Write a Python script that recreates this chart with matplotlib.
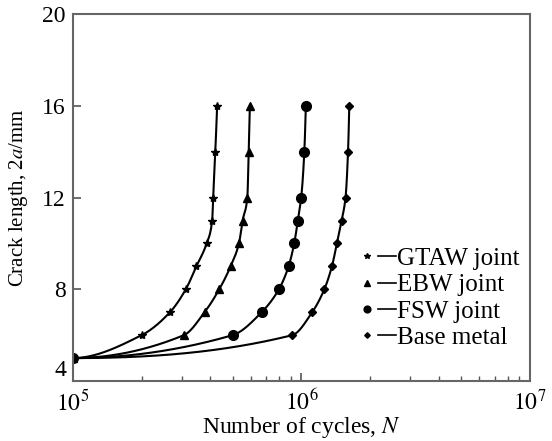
import numpy as np
import matplotlib
matplotlib.use('Agg')
import matplotlib.pyplot as plt
from matplotlib.lines import Line2D
from matplotlib.legend_handler import HandlerTuple

plt.rcParams['font.family'] = ['Liberation Serif', 'DejaVu Serif']
plt.rcParams['mathtext.fontset'] = 'stix'

# crack length readings, 2a (mm)
crack = [5, 6, 7, 8, 9, 10, 11, 12, 14, 16]

# cycles for each series
n_gtaw = [1.0e5, 2.0e5, 2.66e5, 3.12e5, 3.47e5, 3.85e5, 4.07e5, 4.11e5, 4.2e5, 4.28e5]
n_ebw = [1.0e5, 3.06e5, 3.77e5, 4.37e5, 4.9e5, 5.33e5, 5.53e5, 5.8e5, 5.88e5, 5.95e5]
n_fsw = [1.0e5, 5.0e5, 6.7e5, 7.97e5, 8.79e5, 9.3e5, 9.65e5, 9.98e5, 1.03e6, 1.046e6]
n_base = [1.0e5, 9.12e5, 1.115e6, 1.26e6, 1.36e6, 1.43e6, 1.5e6, 1.56e6, 1.6e6, 1.62e6]

labels = ['GTAW joint', 'EBW joint', 'FSW joint', 'Base metal']
markers = ['*', '^', 'o', 'D']
msizes = [6, 6, 7, 4]


def pchip(x, y, xx):
    # monotone cubic (Fritsch-Carlson), only for drawing the smooth line
    x = np.asarray(x, float)
    y = np.asarray(y, float)
    h = np.diff(x)
    d = np.diff(y) / h
    n = len(x)
    m = np.zeros(n)
    for i in range(1, n - 1):
        if d[i - 1] * d[i] > 0:
            w1 = 2 * h[i] + h[i - 1]
            w2 = h[i] + 2 * h[i - 1]
            m[i] = (w1 + w2) / (w1 / d[i - 1] + w2 / d[i])
    m[0] = max(((2 * h[0] + h[1]) * d[0] - h[0] * d[1]) / (h[0] + h[1]), 0)
    m[-1] = ((2 * h[-1] + h[-2]) * d[-1] - h[-1] * d[-2]) / (h[-1] + h[-2])
    if m[-1] < 0:
        m[-1] = 0
    out = np.zeros_like(xx)
    for k, v in enumerate(xx):
        i = min(max(np.searchsorted(x, v, side='right') - 1, 0), n - 2)
        t = (v - x[i]) / h[i]
        h00 = 2 * t ** 3 - 3 * t ** 2 + 1
        h10 = t ** 3 - 2 * t ** 2 + t
        h01 = -2 * t ** 3 + 3 * t ** 2
        h11 = t ** 3 - t ** 2
        out[k] = h00 * y[i] + h10 * h[i] * m[i] + h01 * y[i + 1] + h11 * h[i] * m[i + 1]
    return out


fig = plt.figure(figsize=(5.52, 4.41), dpi=100)
ax = fig.add_axes([0.132, 0.136, 0.828, 0.832])

handles = []
for n, lab, m, ms in zip([n_gtaw, n_ebw, n_fsw, n_base], labels, markers, msizes):
    lx = np.log10(n)
    xx = np.linspace(lx[0], lx[-1], 2000)
    ax.plot(10 ** xx, pchip(lx, crack, xx), color='black', lw=1.5)
    ax.plot(n, crack, linestyle='none', marker=m, ms=ms, color='black')
    h1 = Line2D([], [], linestyle='none', marker=m, ms=ms * 0.7, color='black')
    h2 = Line2D([], [], color='black', lw=1.2)
    handles.append((h1, h2))

ax.set_xscale('log')
ax.set_xlim(1e5, 1e7)
ax.set_ylim(4, 20)
ax.set_yticks([4, 8, 12, 16, 20])
ax.set_xticks([1e5, 1e6, 1e7])
ax.set_xticklabels(['$10^5$', '$10^6$', '$10^7$'])
ax.set_xlabel('Number of cycles, $\\mathit{N}$', fontsize=17, labelpad=0)
ax.set_ylabel('Crack length, 2$\\mathit{a}$/mm', fontsize=15, labelpad=9)
ax.tick_params(which='both', direction='in', top=False, right=False, labelsize=17, color='#555555')
ax.tick_params(which='major', length=6, width=1.2)
ax.tick_params(which='minor', length=3.5, width=1)
ax.tick_params(axis='x', pad=6)
ax.tick_params(axis='y', pad=5)
# lift the lowest y label so it clears 10^5
ax.get_yticklabels()[0].set_va('bottom')
for s in ax.spines.values():
    s.set_color('#666666')
    s.set_linewidth(1.5)

ax.legend(handles, labels, handler_map={tuple: HandlerTuple(ndivide=None, pad=0.1)},
          loc='lower right', bbox_to_anchor=(1.015, 0.04), frameon=False, fontsize=18,
          handlelength=1.5, handletextpad=0.05, labelspacing=0.15, borderpad=0.2)

plt.savefig('out.png', dpi=100)
